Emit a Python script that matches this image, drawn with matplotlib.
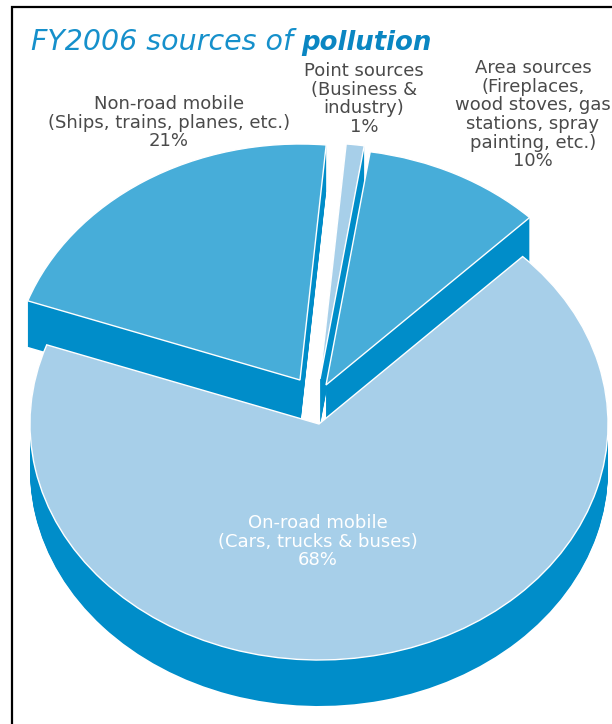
import matplotlib
matplotlib.use("Agg")
import matplotlib.pyplot as plt
from matplotlib.patches import Wedge
from matplotlib.transforms import Affine2D

sources = ['On-road mobile', 'Non-road mobile', 'Point sources', 'Area sources']
details = ['(Cars, trucks & buses)',
           '(Ships, trains, planes, etc.)',
           '(Business &\nindustry)',
           '(Fireplaces,\nwood stoves, gas\nstations, spray\npainting, etc.)']
shares = [68, 21, 1, 10]

LIGHT = '#a7cfe9'
MID = '#47add9'
DARK = '#008dc9'
TEXT = '#4a4a4a'

# pie geometry in pixels, y axis points down
RX, RY = 289, 236
DEPTH = 46
START = 160.4  # slices run clockwise from here, non-road first

fig = plt.figure(figsize=(6.12, 7.24), dpi=100)
ax = fig.add_axes([0, 0, 1, 1])
ax.set_xlim(0, 612)
ax.set_ylim(724, 0)
ax.axis('off')

# page frame, open at the bottom and right
ax.plot([12, 12, 612], [724, 6.5, 6.5], color='black', lw=1.6, solid_joinstyle='miter')


def draw_slice(cx, cy, theta1, theta2, color):
    # stack copies downward for the side, then the top face with a white rim
    base = Affine2D().scale(RX, RY)
    for d in range(DEPTH, 0, -1):
        tr = base + Affine2D().scale(1, -1).translate(cx, cy + d) + ax.transData
        ax.add_patch(Wedge((0, 0), 1, theta1, theta2, fc=DARK, ec='none', transform=tr))
    tr = base + Affine2D().scale(1, -1).translate(cx, cy) + ax.transData
    ax.add_patch(Wedge((0, 0), 1, theta1, theta2, fc=color, ec='white', lw=1.0, transform=tr))


# angle of every slice from its share
spans = [s / sum(shares) * 360 for s in shares]
a_nonroad = (START - spans[1], START)
a_point = (a_nonroad[0] - spans[2], a_nonroad[0])
a_area = (a_point[0] - spans[3], a_point[0])
a_onroad = (a_area[0] - spans[0], a_area[0])

# back slices first, the big one sits over their sides
draw_slice(300, 380, *a_nonroad, MID)
draw_slice(320, 379, *a_point, LIGHT)
draw_slice(326, 385, *a_area, MID)
draw_slice(319, 424, *a_onroad, LIGHT)

ax.text(31, 50, 'FY2006 sources of', color='#1690cb', fontsize=20.5, style='italic',
        family='DejaVu Sans', va='baseline')
ax.text(301, 50, 'pollution', color='#0a86c2', fontsize=18.7, style='italic', weight='bold',
        family='DejaVu Sans', va='baseline')

label_font = dict(fontsize=13, ha='center', va='top', linespacing=1.05, family='DejaVu Sans')


def label(i, x, y, color=TEXT):
    ax.text(x, y, f'{sources[i]}\n{details[i]}\n{shares[i]}%', color=color, **label_font)


label(0, 318, 514, 'white')
label(1, 169, 95)
label(2, 364, 62)
label(3, 533, 59)

fig.savefig('out.png', dpi=100)
